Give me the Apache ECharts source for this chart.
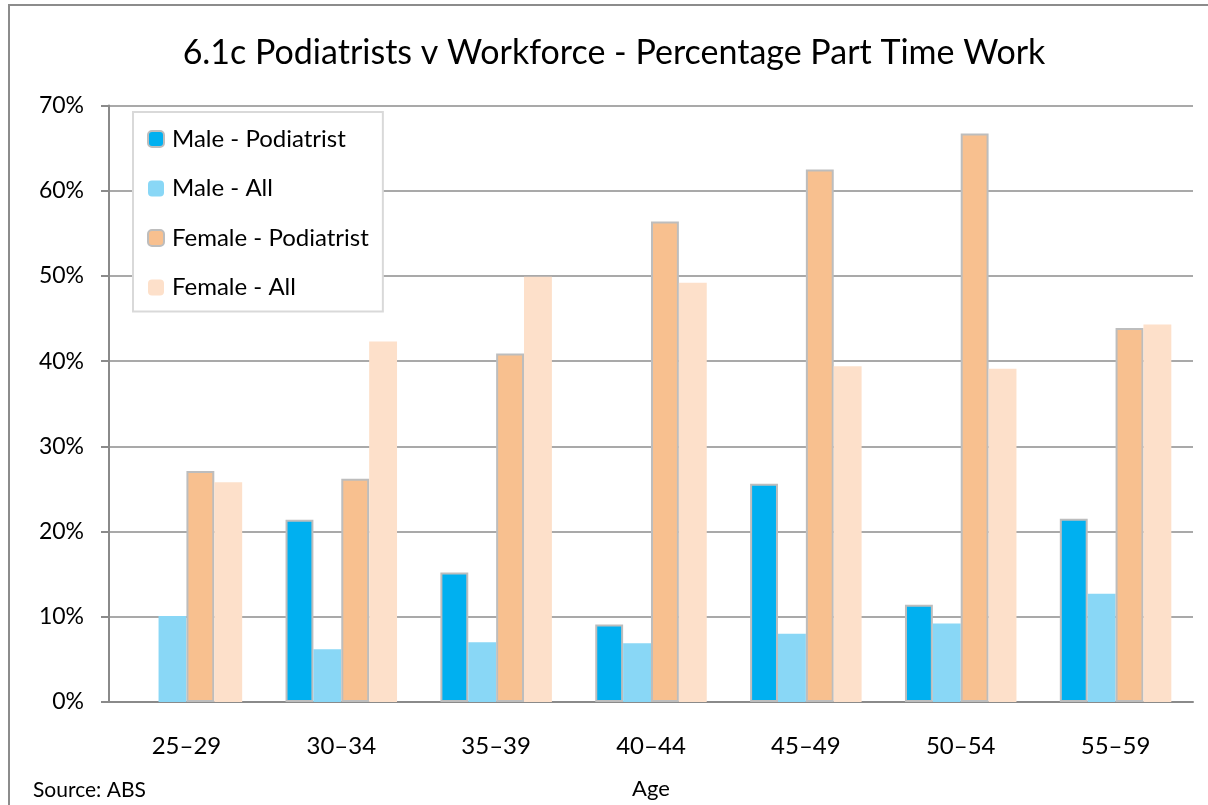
<!DOCTYPE html>
<html>
<head>
<meta charset="utf-8">
<script src="https://cdn.jsdelivr.net/npm/echarts@6/dist/echarts.min.js"></script>
<style>
  html, body { margin: 0; padding: 0; background: #fff; }
  #main { width: 1208px; height: 805px; }
</style>
</head>
<body>
<div id="main"></div>
<script>
// age groups
var ages = ['25–29', '30–34', '35–39', '40–44', '45–49', '50–54', '55–59'];
// percentage part time
var malePod = [null, 21.4, 15.2, 9.1, 25.6, 11.4, 21.5];
var maleAll = [10.1, 6.2, 7.0, 6.9, 8.0, 9.2, 12.7];
var femalePod = [27.1, 26.2, 40.9, 56.4, 62.5, 66.7, 43.9];
var femaleAll = [25.8, 42.3, 49.9, 49.2, 39.4, 39.1, 44.3];
var yTicks = [0, 10, 20, 30, 40, 50, 60, 70];

var font = 'Lato';
var chart = echarts.init(document.getElementById('main'));

function bar(name, data, color, border) {
  return {
    name: name,
    type: 'bar',
    data: data,
    barGap: '0%',
    barCategoryGap: '28%',
    itemStyle: {
      color: color,
      borderColor: border ? '#bdbdbd' : color,
      borderWidth: border ? 2 : 0
    }
  };
}

var option = {
  backgroundColor: '#fff',
  animation: false,
  textStyle: { fontFamily: font },
  title: [{
    text: '6.1c Podiatrists v Workforce - Percentage Part Time Work',
    left: 609,
    textAlign: 'center',
    top: 31,
    textStyle: { fontFamily: font, fontSize: 34, fontWeight: 'normal', color: '#000' }
  }, {
    text: 'Source: ABS',
    left: 28,
    top: 775,
    textStyle: { fontFamily: font, fontSize: 21, fontWeight: 'normal', color: '#000' }
  }],
  graphic: [{
    type: 'rect',
    shape: { x: 9, y: 5, width: 1210, height: 840 },
    style: { fill: 'none', stroke: '#8c8c8c', lineWidth: 2 },
    silent: true
  }],
  legend: {
    orient: 'vertical',
    left: 133,
    top: 112,
    padding: [15, 14, 12, 14],
    itemWidth: 16,
    itemHeight: 16,
    itemGap: 25.5,
    borderColor: '#d9d9d9',
    borderWidth: 2,
    backgroundColor: '#fff',
    textStyle: { fontFamily: font, fontSize: 24, color: '#000', lineHeight: 24, padding: [0, 0, 0, 3] },
    data: ['Male - Podiatrist', 'Male - All', 'Female - Podiatrist', 'Female - All']
  },
  grid: {
    left: 109,
    right: 15,
    top: 105.5,
    bottom: 99
  },
  xAxis: {
    type: 'category',
    data: ages,
    name: 'Age',
    nameLocation: 'middle',
    nameGap: 76,
    nameTextStyle: { fontFamily: font, fontSize: 22, color: '#000' },
    axisLine: { lineStyle: { color: '#8a8a8a', width: 2 } },
    axisTick: { show: false },
    axisLabel: { fontFamily: font, fontSize: 24, color: '#000', margin: 32 }
  },
  yAxis: {
    type: 'value',
    min: yTicks[0],
    max: yTicks[yTicks.length - 1],
    interval: 10,
    axisLine: { show: true, lineStyle: { color: '#8a8a8a', width: 2 } },
    axisTick: { show: true, length: 8, lineStyle: { color: '#8a8a8a', width: 2 } },
    axisLabel: { fontFamily: font, fontSize: 23, color: '#000', margin: 25, formatter: '{value}%' },
    splitLine: { lineStyle: { color: '#8c8c8c', width: 1.5 } }
  },
  series: [
    bar('Male - Podiatrist', malePod, '#00b0f0', true),
    bar('Male - All', maleAll, '#89d7f6', false),
    bar('Female - Podiatrist', femalePod, '#f8c08f', true),
    bar('Female - All', femaleAll, '#fde0ca', false)
  ]
};

chart.setOption(option);
</script>
</body>
</html>
